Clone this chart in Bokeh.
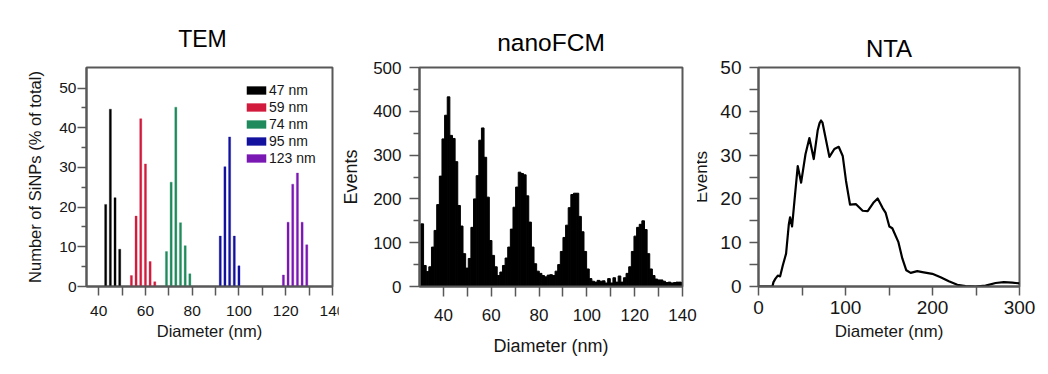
import numpy as np
from bokeh.plotting import figure
from bokeh.models import Range1d, FixedTicker
from bokeh.layouts import row
from bokeh.embed import file_html
from bokeh.resources import INLINE

# ---------------- data ----------------
# TEM: diameter (nm) and % of particles, one list pair per sample
tem_labels = ["47 nm", "59 nm", "74 nm", "95 nm", "123 nm"]
tem_d_47 = [43, 45, 47, 49]
tem_p_47 = [20.7, 44.7, 22.4, 9.4]
tem_d_59 = [54, 56, 58, 60, 62, 64]
tem_p_59 = [2.75, 17.75, 42.3, 30.9, 6.3, 1.2]
tem_d_74 = [69, 71, 73, 75, 77, 79]
tem_p_74 = [8.8, 26.3, 45.2, 16.1, 10.3, 3.2]
tem_d_95 = [92, 94, 96, 98, 100]
tem_p_95 = [12.7, 30.2, 37.7, 12.7, 5.2]
tem_d_123 = [119, 121, 123, 125, 127, 129]
tem_p_123 = [2.9, 16.2, 25.8, 28.6, 16.2, 10.5]
tem_colors = ["#000000", "#d21a3c", "#1f8a5c", "#12129e", "#7a18b4"]

# nanoFCM: histogram (bin start, bin width, counts per bin)
fcm_bin_start = 30.6
fcm_bin_width = 1.1
fcm_counts = [143, 48, 34, 45, 90, 128, 187, 252, 337, 391, 433,
              345, 338, 285, 185, 138, 75, 42,
              64, 135, 200, 253, 334, 362,
              295, 204, 105, 71, 45, 25, 33, 48, 65, 90, 131, 181, 227,
              261, 258, 255, 207, 147, 90, 52,
              35, 30, 25, 22, 26, 27, 25,
              35, 50, 80, 112, 140, 180, 210, 213, 213, 160, 125, 80, 40, 18,
              12, 10, 14, 12, 13, 8, 18, 8, 20, 10, 24, 10,
              20, 30, 45, 80, 115, 135, 142, 150, 130, 75, 40, 25, 17, 15,
              15, 12, 9, 10, 8, 9, 10, 10]

# NTA: size distribution curve
nta_x = [0, 16, 17.2, 19.5, 22.2, 24.8, 27.9, 31.7, 34.8, 36.3, 38.6, 41.3,
         45.1, 49, 54, 58.5, 63.5, 68, 70.2, 71.9, 73.6, 75.8, 81.5, 87.2,
         92.2, 96.8, 100.6, 105.2, 112.1, 119.7, 125.5, 132, 137, 142.7,
         146.2, 150.4, 153.8, 160.7, 165.3, 169.9, 174.9, 182.5, 188.3,
         199.8, 209.3, 218.8, 228.5, 238, 249.5, 261, 272.5, 282, 291.6, 300]
nta_y = [0, 0, 1.0, 1.8, 2.5, 2.3, 4.8, 7.5, 14.1, 15.8, 13.7, 19.5,
         27.5, 23.7, 30.2, 33.9, 29.1, 35.6, 37.3, 37.9, 37.4, 35.2, 29.6, 31.4,
         31.9, 29.8, 24.1, 18.7, 18.8, 17.3, 17.2, 19.1, 20.1, 17.9,
         16.8, 13.7, 13.3, 10.2, 6.4, 3.7, 3.1, 3.5, 3.3,
         2.9, 2.1, 1.2, 0.4, 0.07, 0, 0.2, 0.8, 1.0, 0.9, 0.7]

# ---------------- style ----------------
FONT = "Liberation Sans"
AX = "#585858"
TXT = "#161616"
H = 374
TOP = 67
BOTTOM = 88


def base_fig(w, xr, yr, bl, br):
    p = figure(width=w, height=H, x_range=Range1d(*xr), y_range=Range1d(*yr),
               output_backend="svg", toolbar_location=None,
               min_border_left=bl, min_border_right=br,
               min_border_top=TOP, min_border_bottom=BOTTOM)
    p.xgrid.visible = False
    p.ygrid.visible = False
    p.background_fill_color = "white"
    p.border_fill_color = "white"
    p.outline_line_color = AX
    p.outline_line_width = 2
    for ax in (p.xaxis[0], p.yaxis[0]):
        ax.axis_line_color = AX
        ax.axis_line_width = 2
        ax.major_tick_line_color = AX
        ax.minor_tick_line_color = AX
        ax.major_tick_line_width = 1.5
        ax.minor_tick_line_width = 1.5
        ax.major_tick_in = 0
        ax.minor_tick_in = 0
        ax.major_label_text_font = FONT
        ax.major_label_text_color = TXT
        ax.axis_label_text_font = FONT
        ax.axis_label_text_font_style = "normal"
        ax.axis_label_text_color = TXT
    p.title.text_font = FONT
    p.title.text_font_style = "normal"
    p.title.text_color = "#000000"
    return p


# ---------------- TEM ----------------
p1 = base_fig(353, (34.8, 140), (0, 55.2), 86, 21)
p1.margin = (0, -15, 0, 0)
tem_d = [tem_d_47, tem_d_59, tem_d_74, tem_d_95, tem_d_123]
tem_p = [tem_p_47, tem_p_59, tem_p_74, tem_p_95, tem_p_123]
for d, pc, c, lab in zip(tem_d, tem_p, tem_colors, tem_labels):
    p1.vbar(x=d, top=pc, width=0.9, fill_color=c, line_color=c, line_width=0.3,
            legend_label=lab)
p1.xaxis.ticker = FixedTicker(ticks=[40, 60, 80, 100, 120, 140],
                              minor_ticks=[50, 70, 90, 110, 130])
p1.yaxis.ticker = FixedTicker(ticks=[0, 10, 20, 30, 40, 50],
                              minor_ticks=[5, 15, 25, 35, 45])
p1.xaxis.major_tick_out = 9
p1.xaxis.minor_tick_out = 9
p1.yaxis.major_tick_out = 9
p1.yaxis.minor_tick_out = 5
p1.xaxis.major_label_text_font_size = "15.5px"
p1.yaxis.major_label_text_font_size = "15.5px"
p1.xaxis.major_label_standoff = 10
p1.yaxis.major_label_standoff = 1
p1.xaxis.axis_label = "Diameter (nm)"
p1.yaxis.axis_label = "Number of SiNPs (% of total)"
p1.xaxis.axis_label_text_font_size = "16.5px"
p1.yaxis.axis_label_text_font_size = "16.5px"
p1.xaxis.axis_label_standoff = 3
p1.yaxis.axis_label_standoff = 12
leg = p1.legend[0]
leg.location = (158, 120)
leg.padding = 0
leg.margin = 0
leg.spacing = 1
leg.glyph_width = 24
leg.glyph_height = 10
leg.label_height = 15
leg.label_standoff = 1
leg.border_line_alpha = 0
leg.background_fill_alpha = 0
leg.label_text_font = FONT
leg.label_text_font_size = "14px"
leg.label_text_color = TXT
p1.title.text = "TEM"
p1.title.text_font_size = "23px"
p1.title.align = "left"
p1.title.offset = 91.7
p1.title.standoff = 32

# ---------------- nanoFCM ----------------
p2 = base_fig(359, (30, 140), (0, 500), 78, 15)
p2.styles = {"z-index": "3"}
fcm_x = fcm_bin_start + fcm_bin_width * (np.arange(len(fcm_counts)) + 0.5)
p2.vbar(x=fcm_x, top=fcm_counts, width=fcm_bin_width, fill_color="black",
        line_color="black", line_width=1.0)
p2.xaxis.ticker = FixedTicker(ticks=[40, 60, 80, 100, 120, 140],
                              minor_ticks=[50, 70, 90, 110, 130])
p2.yaxis.ticker = FixedTicker(ticks=[0, 100, 200, 300, 400, 500],
                              minor_ticks=[50, 150, 250, 350, 450])
p2.xaxis.major_tick_out = 10
p2.xaxis.minor_tick_out = 10
p2.yaxis.major_tick_out = 10
p2.yaxis.minor_tick_out = 6
p2.xaxis.major_label_text_font_size = "17px"
p2.yaxis.major_label_text_font_size = "17px"
p2.xaxis.major_label_standoff = 12
p2.yaxis.major_label_standoff = 8
p2.xaxis.axis_label = "Diameter (nm)"
p2.yaxis.axis_label = "Events"
p2.xaxis.axis_label_text_font_size = "18px"
p2.yaxis.axis_label_text_font_size = "18px"
p2.xaxis.axis_label_standoff = 12
p2.yaxis.axis_label_standoff = 9
p2.title.text = "nanoFCM"
p2.title.text_font_size = "24.5px"
p2.title.align = "center"
p2.title.standoff = 24

# ---------------- NTA ----------------
p3 = base_fig(363, (0, 300), (0, 50), 73, 29)
p3.margin = (0, 0, 0, -12)
p3.styles = {"z-index": "1"}
p3.line(x=nta_x, y=nta_y, line_color="black", line_width=2.2, line_join="round")
p3.xaxis.ticker = FixedTicker(ticks=[0, 100, 200, 300], minor_ticks=[50, 150, 250])
p3.yaxis.ticker = FixedTicker(ticks=[0, 10, 20, 30, 40, 50],
                              minor_ticks=[5, 15, 25, 35, 45])
p3.xaxis.major_tick_out = 9
p3.xaxis.minor_tick_out = 9
p3.yaxis.major_tick_out = 9
p3.yaxis.minor_tick_out = 9
p3.xaxis.major_label_text_font_size = "19px"
p3.yaxis.major_label_text_font_size = "19px"
p3.xaxis.major_label_standoff = 5
p3.yaxis.major_label_standoff = 8
p3.xaxis.axis_label = "Diameter (nm)"
p3.xaxis.axis_label_text_font_size = "17px"
p3.xaxis.axis_label_standoff = 5
p3.yaxis.axis_label = "Events"
p3.yaxis.axis_label_text_font_size = "17px"
p3.yaxis.axis_label_standoff = 6
p3.title.text = "NTA"
p3.title.text_font_size = "24px"
p3.title.align = "center"
p3.title.standoff = 12

layout = row(p1, p2, p3)
open("out.html", "w").write(file_html(layout, INLINE))
